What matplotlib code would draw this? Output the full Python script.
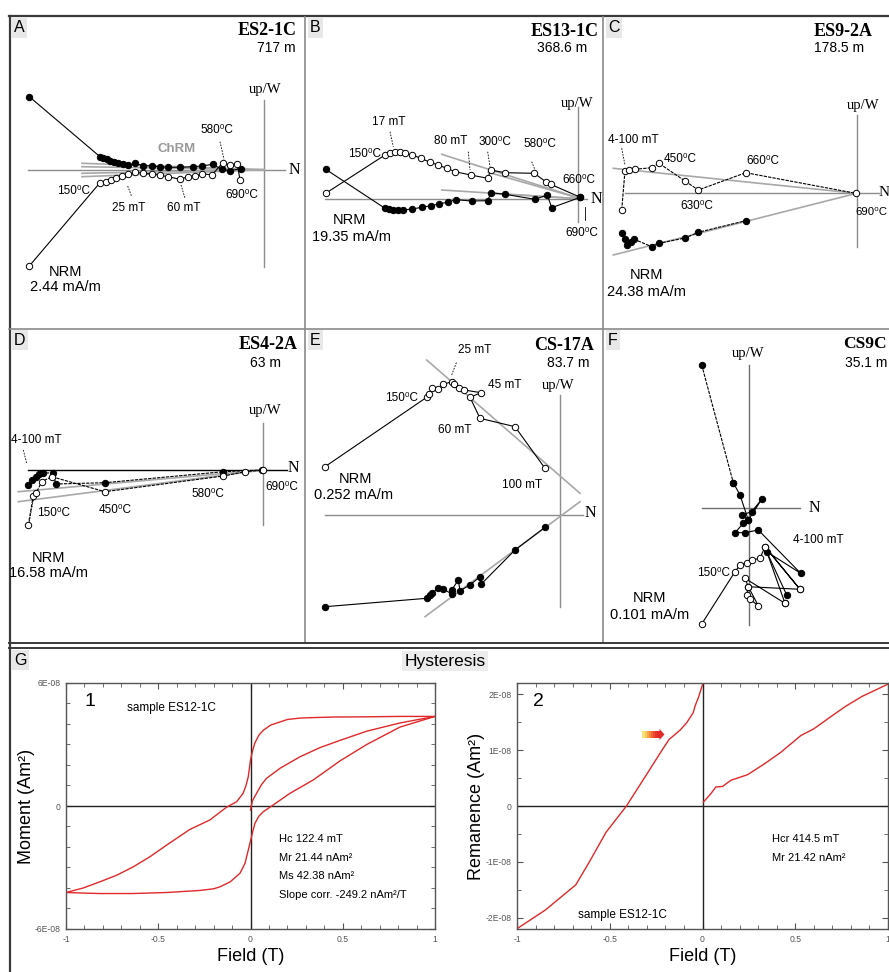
import matplotlib
matplotlib.use('Agg')
import matplotlib.pyplot as plt
from matplotlib.ticker import FixedLocator, MultipleLocator, FixedFormatter
from matplotlib.patches import Rectangle, Polygon

W, H = 889, 972
SANS = ['Liberation Sans', 'DejaVu Sans']
SERIF = ['Liberation Serif', 'DejaVu Serif']
plt.rcParams['font.family'] = SANS
DEG = '\u2070C'

# ---------------- Zijderveld data (components, arbitrary units) ----------------
# Panel A  ES2-1C
A_FIL_X = [-234.7, -164, -160.7, -157.3, -154, -150, -145.7, -140.7, -135.7, -129, -120.7, -112.3, -104, -95.7, -84, -70.7, -62.3, -51.3, -42.3, -34, -23.3]
A_FIL_Y = [73.0, 13.0, 11.7, 10.4, 9.0, 7.7, 6.4, 5.4, 4.4, 6.4, 4.0, 3.7, 3.0, 2.4, 2.4, 3.0, 3.7, 5.4, 0.4, -1.0, 1.0]
A_OPN_X = [-234.7, -164, -158, -153.3, -148, -142.3, -135.7, -129, -120.7, -112.3, -104, -95.7, -84, -75.7, -69, -61.7, -51.7, -41.3, -34, -26.7, -24]
A_OPN_Y = [-96.3, -13.0, -12.0, -10.3, -8.0, -6.3, -4.7, -2.6, -3.6, -4.3, -5.6, -7.0, -9.6, -7.0, -6.0, -4.3, -5.0, 7.0, 4.4, 5.7, -10.3]
A_FIT_X = [-182, -182, -182, -182]
A_FIT_Y = [6.4, 3.0, -3.6, -7.0]

# Panel B  ES13-1C
B_OPN_X = [-252.6, -193.3, -188.3, -183.3, -178.3, -173.3, -166, -157.3, -148.3, -140, -131.6, -123.3, -107.6, -90.6, -87.6, -73.3, -44, -32.6, -27.6, 2]
B_OPN_Y = [6.0, 44.3, 46.0, 47.0, 47.0, 46.0, 44.3, 41.0, 37.0, 34.3, 31.0, 27.6, 24.3, 21.0, 29.3, 26.6, 26.0, 17.6, 15.0, 2]
B_FIL_X = [-252.6, -193.3, -189.3, -185, -180, -175, -166, -156.6, -147.6, -139.3, -130, -122.6, -106.6, -90.6, -87.3, -73.3, -43.3, -31, -26.6, 2]
B_FIL_Y = [30.0, -9.0, -10.0, -10.7, -10.7, -10.7, -9.7, -8.0, -6.4, -4.7, -2.7, -0.4, -1.7, -1.4, 6.6, 5.0, 0.0, 4.3, -8.4, 2]
B_FIT_X = [-136.6, -90, -136.6, -90]
B_FIT_Y = [45.0, 27.0, 9.3, 6.0]

# Panel C  ES9-2A
C_OPN_X = [-235, -231.7, -227.3, -221.7, -205, -197.7, -171.7, -158.4, -111, -1]
C_OPN_Y = [-16.7, 22.6, 23.3, 24.0, 25.6, 30.0, 12.3, 3.3, 20.6, 0]
C_FIL_X = [-235, -231.7, -230, -226, -222.4, -205, -197.7, -171.7, -158.4, -111]
C_FIL_Y = [-39.4, -46, -51.7, -48.4, -46, -53.4, -50, -44.7, -39, -27.4]
C_FIT_X = [-243.4, -243.4]
C_FIT_Y = [25.0, -61.7]

# Panel D  ES4-2A
D_FIL_X = [-235, -231.6, -227.3, -224, -220.6, -210.6, -207.3, -158.3, -40, -1.6]
D_FIL_Y = [-15, -10, -6.7, -4, -3.3, -2.7, -14, -12.7, -1.7, 0]
D_OPN_X = [-235, -230, -227.3, -221.6, -211.6, -158.3, -40, -18.3, 0]
D_OPN_Y = [-55, -25.7, -23.3, -11.7, -6.7, -21.7, -6, -1.7, 0]
D_FIT_X = [-245, -245]
D_FIT_Y = [-21.7, -31.7]

# Panel E  CS-17A
E_OPN_X = [-235, -133.3, -131, -128.3, -121.7, -116.7, -108.3, -105.7, -101, -95.7, -79, -90, -80, -45, -15]
E_OPN_Y = [48.3, 117.7, 121, 126.7, 126, 130.7, 133.3, 131, 126.7, 125, 122.3, 117.7, 96.7, 88.3, 46.7]
E_FIL_X = [-235, -133.3, -130, -127.7, -121.7, -116.7, -108.3, -108.3, -101.7, -100, -90, -80, -79, -45, -15]
E_FIL_Y = [-91.7, -83.3, -80, -77.7, -73.3, -74, -79, -75, -65, -75.7, -70, -61.7, -69.3, -35, -12.3]
E_FIT_X0 = [-133.3, -135]
E_FIT_Y0 = [155, -101.7]
E_FIT_X1 = [20, 20]
E_FIT_Y1 = [21.7, 13.3]

# Panel F  CS9C
F_FIL_X = [-47.6, -16, -9.3, -1, -7.6, 2.4, 12.4, -1, -6, -14.3, -4.3, 9, 51.4, 17.4, 37.4]
F_FIL_Y = [143.3, 25.6, 13.3, -11.7, -6.7, -3.4, 9, -11.7, -15, -24.4, -24.4, -21.7, -65, -43.4, -86.7]
F_OPN_X = [-47.6, -14.3, -9.3, -2.6, 2.4, 10.7, 15.7, 50.7, 15.7, 35.7, 35.7, -4.3, -1, -2.6, 0.7, 9, -1, 50.7]
F_OPN_Y = [-115.7, -63.4, -56.7, -54.4, -51.7, -50, -38.4, -81, -38.4, -95, -95, -70, -78.4, -86.7, -91, -97.4, -78.4, -81]

# ---------------- Hysteresis data (moments in 1E-08 Am2) ----------------
UP_F = [1.0, 0.81, 0.63, 0.45, 0.33, 0.27, 0.2, 0.16, 0.11, 0.07, 0.045, 0.023, 0.01, 0.0, -0.012, -0.025, -0.04, -0.075, -0.13, -0.22, -0.33, -0.455, -0.546, -0.636, -0.726, -0.817, -0.907, -1.0]
UP_M = [4.37, 4.37, 4.35, 4.34, 4.31, 4.29, 4.22, 4.1, 3.95, 3.7, 3.45, 3.06, 2.65, 2.24, 1.43, 0.98, 0.62, 0.21, -0.06, -0.68, -1.15, -1.91, -2.48, -2.97, -3.38, -3.70, -4.0, -4.22]
LO_F = [-1.0, -0.82, -0.64, -0.455, -0.275, -0.2, -0.165, -0.11, -0.057, -0.03, -0.012, 0.0, 0.012, 0.024, 0.045, 0.069, 0.115, 0.214, 0.34, 0.485, 0.63, 0.81, 1.0]
LO_M = [-4.22, -4.27, -4.27, -4.22, -4.12, -4.04, -3.94, -3.7, -3.28, -2.8, -2.15, -1.7, -1.25, -0.85, -0.5, -0.28, 0.0, 0.62, 1.27, 2.2, 3.0, 3.85, 4.37]
MID_F = [0.0, 0.01, 0.033, 0.06, 0.087, 0.16, 0.268, 0.377, 0.485, 0.63, 0.81, 1.0]
MID_M = [-0.2, 0.25, 0.62, 1.05, 1.35, 1.84, 2.4, 2.85, 3.2, 3.65, 4.05, 4.37]

BF_L_F = [-1.0, -0.847, -0.683, -0.61, -0.52, -0.41, -0.306, -0.216, -0.18, -0.12, -0.085, -0.05, -0.04, -0.022, 0.0]
BF_L_M = [-2.195, -1.86, -1.41, -1.0, -0.47, 0.0, 0.54, 1.01, 1.19, 1.36, 1.49, 1.67, 1.79, 1.94, 2.17]
BF_R_F = [0.005, 0.045, 0.072, 0.108, 0.153, 0.207, 0.243, 0.332, 0.422, 0.53, 0.6, 0.68, 0.77, 0.86, 1.0]
BF_R_M = [0.07, 0.22, 0.34, 0.35, 0.46, 0.52, 0.56, 0.75, 0.96, 1.26, 1.38, 1.57, 1.78, 1.96, 2.18]

# ---------------- figure ----------------
fig = plt.figure(figsize=(W / 100, H / 100), dpi=100)
base = fig.add_axes([0, 0, 1, 1])
base.set_xlim(0, W)
base.set_ylim(H, 0)
base.axis('off')

FRAME = '#3a3a3a'
DIV = '#8a8a8a'
base.plot([9, W], [16.5, 16.5], color=FRAME, lw=1.6)
base.plot([9.5, 9.5], [16.5, H], color=FRAME, lw=1.6)
base.plot([305, 305], [17, 643], color=DIV, lw=1.2)
base.plot([603, 603], [17, 643], color=DIV, lw=1.2)
base.plot([9, W], [329, 329], color=DIV, lw=1.2)
base.plot([9, W], [643, 643], color=FRAME, lw=1.4)
base.plot([9, W], [647.5, 647.5], color=FRAME, lw=1.4)

for lab, x, y in [('A', 14, 28), ('B', 310, 28), ('C', 608, 28), ('D', 14, 340), ('E', 310, 340), ('F', 608, 340), ('G', 14, 660)]:
    base.text(x, y, lab, fontsize=11.5, ha='left', va='center',
              bbox=dict(facecolor='#e8e8e8', edgecolor='none', pad=1.5))
base.text(445, 661, 'Hysteresis', fontsize=12.5, ha='center', va='center',
          bbox=dict(facecolor='#ececec', edgecolor='none', pad=1.5))

AXC = '#8c8c8c'
FITC = '#a8a8a8'


def panel_axes(x0, y0, x1, y1, ox, oy):
    ax = fig.add_axes([x0 / W, 1 - y1 / H, (x1 - x0) / W, (y1 - y0) / H])
    ax.set_xlim(x0 - ox, x1 - ox)
    ax.set_ylim(oy - y1, oy - y0)
    ax.axis('off')
    ax.patch.set_alpha(0)
    return ax


def series(ax, xs, ys, filled, ls='-'):
    ax.plot(xs, ys, color='black', lw=0.8, ls=ls, marker='o', ms=4.6,
            mfc='black' if filled else 'white', mec='black', mew=0.7, zorder=4)


def txt(ax, x, y, s, ha='center', size=8.5, **kw):
    ax.text(x, y, s, ha=ha, va='center', fontsize=size, **kw)


def leader(ax, x0, y0, x1, y1):
    ax.plot([x0, x1], [y0, y1], color='black', lw=0.6, ls=(0, (2, 1.5)), zorder=3)


def head(ax, title, depth, tx, ty, dx, dy, ha='right', dha='center', size=13):
    ax.text(tx, ty, title, ha=ha, va='center', fontsize=size, fontweight='bold', family=SERIF)
    ax.text(dx, dy, depth, ha=dha, va='center', fontsize=10)


def axes_cross(ax, yv, xh, color=AXC, hcolor=None):
    ax.plot([0, 0], yv, color=color, lw=1.0, zorder=1)
    ax.plot(xh, [0, 0], color=hcolor or color, lw=1.0, zorder=1)


# ---- Panel A ----
ax = panel_axes(9, 17, 305, 329, 264, 169.7)
axes_cross(ax, [69.7, -97], [-235.7, 21])
for x0, y0 in zip(A_FIT_X, A_FIT_Y):
    ax.plot([x0, 0], [y0, 0], color=FITC, lw=1.2, zorder=2)
series(ax, A_FIL_X, A_FIL_Y, True)
series(ax, A_OPN_X, A_OPN_Y, False)
txt(ax, 1, 80.4, 'up/W', size=10.5, family=SERIF)
txt(ax, 24.3, -0.3, 'N', ha='left', size=11.5, family=SERIF)
head(ax, 'ES2-1C', '717 m', 33, 139, 12, 121.4)
txt(ax, -87.3, 20.7, 'ChRM', size=9.5, color='#9a9a9a', fontweight='bold')
txt(ax, -47.3, 39.7, '580' + DEG); leader(ax, -44, 28, -40, 10.4)
txt(ax, -190, -21, '150' + DEG)
txt(ax, -135.7, -38.6, '25 mT'); leader(ax, -136.3, -16.3, -132.3, -27)
txt(ax, -80.7, -38.6, '60 mT'); leader(ax, -83, -15.3, -79, -28.6)
txt(ax, -22.3, -25.3, '690' + DEG)
txt(ax, -199, -102, 'NRM', size=10.5)
txt(ax, -199, -117, '2.44 mA/m', size=10.5)

# ---- Panel B ----
ax = panel_axes(305, 17, 603, 329, 578.3, 199.3)
axes_cross(ax, [92.6, -22.4], [-253.3, 8.3])
for x0, y0 in zip(B_FIT_X, B_FIT_Y):
    ax.plot([x0, 3], [y0, 0.5], color=FITC, lw=1.2, zorder=2)
series(ax, B_OPN_X, B_OPN_Y, False)
series(ax, B_FIL_X, B_FIL_Y, True)
txt(ax, -1.6, 96, 'up/W', size=10.5, family=SERIF)
txt(ax, 12.7, 0, 'N', ha='left', size=11.5, family=SERIF)
head(ax, 'ES13-1C', '368.6 m', 20, 168.3, -16.6, 151)
txt(ax, -190, 77.6, '17 mT'); leader(ax, -188.3, 67.6, -185, 52.6)
txt(ax, -213.3, 45.3, '150' + DEG)
txt(ax, -127.6, 58.6, '80 mT'); leader(ax, -110, 47.6, -108.3, 29.3)
txt(ax, -83.3, 57.6, '300' + DEG); leader(ax, -90.6, 47.6, -88.3, 32.6)
txt(ax, -38.3, 55.3, '580' + DEG); leader(ax, -46.6, 37.6, -43.3, 29.3)
txt(ax, 0.7, 19.3, '660' + DEG)
txt(ax, 3.3, -34, '690' + DEG)
ax.plot([6.7, 6.7], [-7.4, -20.7], color='black', lw=0.6)
txt(ax, -228.3, -20.7, 'NRM', size=10.5)
txt(ax, -226.6, -37.4, '19.35 mA/m', size=10.5)

# ---- Panel C ----
ax = panel_axes(603, 17, 889, 329, 856.7, 193.3)
axes_cross(ax, [78.3, -53.4], [-231.7, 22])
for x0, y0 in zip(C_FIT_X, C_FIT_Y):
    ax.plot([x0, 0], [y0, 0], color=FITC, lw=1.2, zorder=2)
series(ax, C_OPN_X, C_OPN_Y, False, ls=(0, (3, 1)))
series(ax, C_FIL_X, C_FIL_Y, True, ls=(0, (3, 1)))
txt(ax, 6.6, 88.3, 'up/W', size=10.5, family=SERIF)
txt(ax, 22, 0.6, 'N', ha='left', size=11, family=SERIF)
head(ax, 'ES9-2A', '178.5 m', -43, 161.6, -43, 145.3, ha='left', dha='left')
txt(ax, -223.4, 53.3, '4-100 mT'); leader(ax, -235, 45, -231.7, 28.3)
txt(ax, -193, 34.3, '450' + DEG, ha='left')
txt(ax, -93.4, 32.6, '660' + DEG)
txt(ax, -160, -12.4, '630' + DEG)
txt(ax, -1.5, -18.4, '690' + DEG, ha='left', size=8.2)
txt(ax, -210, -81.7, 'NRM', size=10.5)
txt(ax, -210, -98.4, '24.38 mA/m', size=10.5)

# ---- Panel D ----
ax = panel_axes(9, 329, 305, 642, 263.3, 470)
axes_cross(ax, [46.7, -55], [-235, 23.3], hcolor='black')
for x0, y0 in zip(D_FIT_X, D_FIT_Y):
    ax.plot([x0, 0], [y0, 0], color=FITC, lw=1.2, zorder=2)
series(ax, D_FIL_X, D_FIL_Y, True, ls=(0, (3, 1)))
series(ax, D_OPN_X, D_OPN_Y, False, ls=(0, (3, 1)))
txt(ax, 1.7, 60, 'up/W', size=10.5, family=SERIF)
txt(ax, 24, 1.7, 'N', ha='left', size=11.5, family=SERIF)
head(ax, 'ES4-2A', '63 m', 34.3, 126, 1.7, 106.7)
txt(ax, -226.6, 30, '4-100 mT'); leader(ax, -240, 20, -236.6, 6.7)
txt(ax, -210, -42.7, '150' + DEG); leader(ax, -230, -30, -234, -51.7)
txt(ax, -148.3, -40, '450' + DEG)
txt(ax, -55, -24, '580' + DEG)
txt(ax, 18.3, -16.7, '690' + DEG)
txt(ax, -215, -88.3, 'NRM', size=10.5)
txt(ax, -215, -103.3, '16.58 mA/m', size=10.5)

# ---- Panel E ----
ax = panel_axes(305, 329, 603, 642, 560, 515)
axes_cross(ax, [120, -91.7], [-235, 23.3])
for x0, y0, x1, y1 in zip(E_FIT_X0, E_FIT_Y0, E_FIT_X1, E_FIT_Y1):
    ax.plot([x0, x1], [y0, y1], color=FITC, lw=1.2, zorder=2)
series(ax, E_OPN_X, E_OPN_Y, False)
series(ax, E_FIL_X, E_FIL_Y, True)
txt(ax, -1.7, 130, 'up/W', size=10.5, family=SERIF)
txt(ax, 25, 1.7, 'N', ha='left', size=11.5, family=SERIF)
head(ax, 'CS-17A', '83.7 m', 34.3, 170, 8.3, 151.7)
txt(ax, -85, 165, '25 mT'); leader(ax, -108.3, 140, -103.3, 153.3)
txt(ax, -158.3, 116.7, '150' + DEG)
txt(ax, -55, 130, '45 mT')
txt(ax, -105, 85, '60 mT')
txt(ax, -38.3, 30, '100 mT')
txt(ax, -205, 35.7, 'NRM', size=10.5)
txt(ax, -206.7, 20, '0.252 mA/m', size=10.5)

# ---- Panel F ----
ax = panel_axes(603, 329, 889, 642, 749.3, 508.3)
axes_cross(ax, [143.3, -116.7], [-47.6, 50.7], color='#707070')
series(ax, F_FIL_X[:2], F_FIL_Y[:2], True, ls=(0, (3, 1)))
series(ax, F_FIL_X[1:], F_FIL_Y[1:], True)
series(ax, F_OPN_X, F_OPN_Y, False)
txt(ax, -1, 155, 'up/W', size=10.5, family=SERIF)
txt(ax, 59, 0, 'N', ha='left', size=11.5, family=SERIF)
head(ax, 'CS9C', '35.1 m', 93.5, 164.3, 95.5, 145.3, ha='left', dha='left', size=12.5)
txt(ax, 69, -31.7, '4-100 mT')
txt(ax, -36, -65, '150' + DEG)
txt(ax, -99.3, -90, 'NRM', size=10.5)
txt(ax, -99.3, -106.7, '0.101 mA/m', size=10.5)

# ---------------- Hysteresis plots ----------------
RED = '#e0282a'


def hyst_axes(x0, x1, y0, y1):
    ax = fig.add_axes([x0 / W, 1 - y1 / H, (x1 - x0) / W, (y1 - y0) / H])
    for s in ax.spines.values():
        s.set_color('#555555')
        s.set_linewidth(1.0)
    ax.tick_params(which='both', direction='in', top=True, right=True,
                   colors='#555555', labelsize=6.2, pad=4)
    ax.tick_params(which='major', length=4)
    ax.tick_params(which='minor', length=3)
    ax.set_xlim(-1, 1)
    ax.xaxis.set_major_locator(FixedLocator([-1, -0.5, 0, 0.5, 1]))
    ax.xaxis.set_major_formatter(FixedFormatter(['-1', '-0.5', '0', '0.5', '1']))
    ax.xaxis.set_minor_locator(MultipleLocator(0.1))
    ax.axvline(0, color='#222222', lw=1.0)
    ax.axhline(0, color='#222222', lw=1.0)
    ax.set_xlabel('Field (T)', fontsize=13, labelpad=3)
    return ax


ax1 = hyst_axes(66, 435, 683, 929)
ax1.set_ylim(-6e-8, 6e-8)
ax1.yaxis.set_major_locator(FixedLocator([-6e-8, 0, 6e-8]))
ax1.yaxis.set_major_formatter(FixedFormatter(['-6E-08', '0', '6E-08']))
ax1.yaxis.set_minor_locator(MultipleLocator(1e-8))
for f, m in [(UP_F, UP_M), (LO_F, LO_M), (MID_F, MID_M)]:
    ax1.plot(f, [v * 1e-8 for v in m], color=RED, lw=1.0)
ax1.set_ylabel('Moment (Am\u00b2)', fontsize=13, labelpad=0)
ax1.text(0.05, 0.923, '1', transform=ax1.transAxes, fontsize=14, va='center')
ax1.text(0.165, 0.898, 'sample ES12-1C', transform=ax1.transAxes, fontsize=8.5, va='center')
for i, s in enumerate(['Hc 122.4 mT', 'Mr 21.44 nAm\u00b2', 'Ms 42.38 nAm\u00b2',
                       'Slope corr. -249.2 nAm\u00b2/T']):
    ax1.text(0.577, 0.366 - i * 0.076, s, transform=ax1.transAxes, fontsize=8, va='center')

ax2 = hyst_axes(517, 888, 683, 929)
ax2.set_ylim(-2.2e-8, 2.2e-8)
ax2.yaxis.set_major_locator(FixedLocator([-2e-8, -1e-8, 0, 1e-8, 2e-8]))
ax2.yaxis.set_major_formatter(FixedFormatter(['-2E-08', '-1E-08', '0', '1E-08', '2E-08']))
ax2.yaxis.set_minor_locator(MultipleLocator(0.5e-8))
ax2.plot(BF_L_F, [v * 1e-8 for v in BF_L_M], color=RED, lw=1.0)
ax2.plot(BF_R_F, [v * 1e-8 for v in BF_R_M], color=RED, lw=1.0)
ax2.set_ylabel('Remanence (Am\u00b2)', fontsize=13, labelpad=0)
ax2.text(0.043, 0.923, '2', transform=ax2.transAxes, fontsize=14, va='center')
ax2.text(0.686, 0.366, 'Hcr 414.5 mT', transform=ax2.transAxes, fontsize=8, va='center')
ax2.text(0.686, 0.289, 'Mr 21.42 nAm\u00b2', transform=ax2.transAxes, fontsize=8, va='center')
ax2.text(0.164, 0.057, 'sample ES12-1C', transform=ax2.transAxes, fontsize=8.5, va='center')

# gradient arrow
n = 8
x_start, x_end, head_x = -0.324, -0.232, -0.205
yc, hh = 1.28e-8, 0.06e-8
cols = ['#f6e27a', '#f7c95a', '#f6a84a', '#f4873e', '#f06536', '#ec4a2f', '#e8352b', '#e42a28']
dx = (x_end - x_start) / n
for i in range(n):
    ax2.add_patch(Rectangle((x_start + i * dx, yc - hh), dx * 1.02, 2 * hh,
                            facecolor=cols[i], edgecolor='none', zorder=5))
ax2.add_patch(Polygon([[x_end, yc - 0.1e-8], [head_x, yc], [x_end, yc + 0.1e-8]],
                      closed=True, facecolor='#e42a28', edgecolor='none', zorder=5))

fig.savefig('out.png', dpi=100)
